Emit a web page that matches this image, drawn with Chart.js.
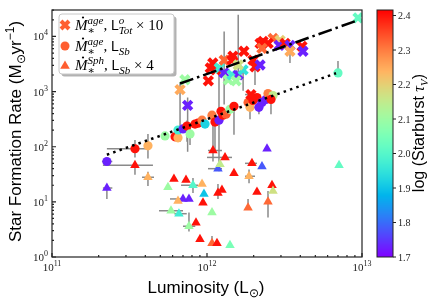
<!DOCTYPE html>
<html>
<head>
<meta charset="utf-8">
<script src="https://cdn.jsdelivr.net/npm/chart.js@4.4.1/dist/chart.umd.min.js"></script>
<style>html,body{margin:0;padding:0;background:#fff}</style>
</head>
<body>
<canvas id="c" width="436" height="303"></canvas>
<script>
// luminosities in units of 1e12 Lsun, SFR in Msun/yr, tau = log(starburst tau_V)
var crossL = [0.67, 0.72, 0.75, 1.02, 1.05, 1.09, 1.14, 1.2, 1.29, 1.29, 1.37, 1.47, 1.45, 1.73, 1.45, 1.59, 1.71, 1.59, 1.54, 1.98, 2.04, 2.2, 1.92, 2.2, 2.3, 2.67, 2.48, 2.96, 2.26, 2.92, 3.19, 3.43, 3.43, 4.1, 4.16, 9.42];
var crossSFR = [1085, 1640, 562, 1570, 2680, 3300, 2470, 2680, 3730, 2180, 1640, 4390, 3730, 5400, 2010, 2010, 2470, 3040, 1570, 3730, 2800, 3040, 884, 7500, 8140, 9200, 7500, 8480, 6100, 6900, 7500, 6900, 5400, 6630, 5400, 21800];
var crossTau = [2.25, 2.1, 1.73, 2.4, 2.4, 2.4, 2.4, 1.97, 2.32, 1.73, 2.1, 2.4, 2.4, 2.4, 1.97, 1.73, 1.95, 2.17, 2.1, 2.4, 2.4, 1.73, 2.4, 2.4, 2.4, 2.32, 2.4, 2.2, 2.32, 1.73, 2.4, 1.73, 2.25, 2.4, 1.73, 2.02];

var circL = [0.226, 0.343, 0.416, 0.536, 0.622, 0.65, 0.65, 0.70, 0.743, 0.777, 0.837, 0.875, 0.929, 0.971, 1.077, 1.126, 1.195, 1.231, 1.268, 1.327, 1.407, 1.493, 1.84, 1.894, 1.98, 2.10, 2.163, 2.263, 2.403, 2.475, 2.665, 2.587, 7.0];
var circSFR = [54, 92, 104, 157, 151, 145, 201, 210, 237, 171, 258, 268, 303, 258, 373, 280, 303, 439, 373, 388, 477, 540, 636, 518, 691, 781, 518, 636, 720, 921, 849, 720, 2180];
var circTau = [1.73, 2.4, 2.24, 2.1, 2.4, 2.24, 1.97, 1.73, 2.4, 2.1, 2.4, 2.4, 2.3, 1.92, 2.3, 2.4, 1.73, 2.4, 2.4, 2.33, 2.1, 2.4, 2.33, 2.24, 2.4, 2.4, 1.73, 1.73, 1.73, 2.3, 2.15, 2.4, 2.02];

var triL = [0.226, 0.343, 0.416, 0.56, 0.612, 0.732, 0.812, 0.929, 0.956, 0.70, 0.765, 0.65, 0.942, 0.586, 0.659, 1.077, 0.849, 0.765, 0.901, 1.077, 1.16, 1.407, 1.177, 1.213, 1.493, 1.177, 1.249, 1.093, 1.307, 2.439, 1.95, 2.263, 1.867, 2.626, 2.665, 2.101, 2.475, 1.84, 7.11];
var triSFR = [17.8, 46, 28, 18.5, 26, 25, 20, 21, 13.9, 11.3, 11.3, 10.4, 9.6, 6.9, 6.1, 6.4, 4.2, 3.6, 2.1, 1.78, 1.78, 1.64, 40, 48, 33, 14.5, 16.4, 85, 64, 92, 50, 44, 29, 20, 15.7, 15.1, 10, 7.8, 46];
var triTau = [1.73, 2.4, 2.24, 2.1, 2.4, 2.4, 2.0, 2.24, 1.9, 1.73, 1.73, 2.24, 2.4, 2.1, 1.97, 2.1, 2.4, 2.1, 2.4, 2.32, 2.4, 2.05, 1.78, 2.15, 2.4, 2.4, 2.4, 2.4, 2.4, 1.73, 2.4, 1.78, 2.24, 2.4, 2.17, 2.4, 2.32, 2.32, 2.02];

// error bars: [index, L low, L high, SFR low, SFR high]
var crossErr = [[0, null, null, 123, 1450], [2, null, null, 81, 781], [9, null, null, 586, 12300], [16, null, null, 1040, null],
  [17, null, null, 1450, 24700], [20, null, null, 1320, null], [22, 1.76, 2.04, null, null], [32, null, null, 3300, null]];
var circErr = [[0, 0.21, 0.245, null, null], [1, 0.226, 0.41, 64, 133], [2, null, null, 61, 171], [8, null, null, 123, 300],
  [9, null, null, 108, 228], [15, null, null, 81, null], [16, null, null, 36, 2680], [21, null, null, 165, null],
  [23, null, null, 316, null], [26, null, null, 388, null], [31, null, null, 388, null], [32, null, null, null, 3580]];
var triErr = [[0, 0.213, 0.245, 11.3, null], [1, 0.213, 0.448, 31, null], [2, 0.381, 0.455, 19.3, 35], [6, 0.68, 0.875, 14.5, 27],
  [9, 0.577, null, null, null], [13, 0.49, 0.70, null, null], [14, 0.615, 0.74, null, null], [17, 0.70, 0.84, 2.9, 6.4],
  [19, null, null, null, 2.4], [22, 1.015, 1.25, null, null], [25, null, null, 11.3, 21], [27, 1.015, 1.249, 54, 343],
  [28, 1.0, 1.45, null, null], [30, 1.758, 2.10, null, null], [32, 1.76, 2.04, 21.8, 38.8], [36, null, null, 5.2, 15.7],
  [37, null, null, null, 11.3]];

// relations
var dashL = [0.67, 9.42];
var dashSFR = [1400, 19700];
var dotL = [0.226, 6.8];
var dotSFR = [71.5, 2150];

var xTicks = [1e11, 1e12, 1e13];
var yTicks = [1, 10, 100, 1000, 10000];
var tauMin = 1.7, tauMax = 2.416;
var cbTicks = [1.7, 1.8, 1.9, 2.0, 2.1, 2.2, 2.3, 2.4];

var SANS = '"Liberation Sans", Arial, sans-serif';
var SERIF = '"Liberation Serif", "DejaVu Serif", serif';

function rainbow(v){
  var t = (v - tauMin) / (tauMax - tauMin);
  t = Math.max(0, Math.min(1, t));
  var r = Math.min(1, Math.abs(2*t - 0.5)), g = Math.sin(Math.PI*t), b = Math.cos(Math.PI*t/2);
  return 'rgb(' + Math.round(r*255) + ',' + Math.round(g*255) + ',' + Math.round(b*255) + ')';
}

function pts(L, S){
  return L.map(function(l, i){ return {x: l*1e12, y: S[i]}; });
}

// text with sub/superscripts: parts = [text, font, dy, stackOnPrevious]
function rich(ctx, parts, x, y, align){
  var cx = 0, ls = 0, la = 0, pos = [];
  parts.forEach(function(p){
    ctx.font = p[1];
    var w = ctx.measureText(p[0]).width;
    if (p[3]) { pos.push(ls); var adv = Math.max(la, w); cx = ls + adv; la = adv; }
    else { pos.push(cx); ls = cx; la = w; cx += w; }
  });
  var x0 = align === 'center' ? x - cx/2 : (align === 'right' ? x - cx : x);
  parts.forEach(function(p, i){
    ctx.font = p[1];
    ctx.fillText(p[0], x0 + pos[i], y + (p[2] || 0));
  });
  return x0;
}

function drawErr(ctx, xs, ys, L, S, errs){
  errs.forEach(function(e){
    var i = e[0];
    var px = xs.getPixelForValue(L[i]*1e12), py = ys.getPixelForValue(S[i]);
    ctx.beginPath();
    if (e[1] != null || e[2] != null) {
      var a = e[1] != null ? e[1] : L[i], b = e[2] != null ? e[2] : L[i];
      ctx.moveTo(xs.getPixelForValue(a*1e12), py);
      ctx.lineTo(xs.getPixelForValue(b*1e12), py);
    }
    if (e[3] != null || e[4] != null) {
      var c = e[3] != null ? e[3] : S[i], d = e[4] != null ? e[4] : S[i];
      ctx.moveTo(px, ys.getPixelForValue(c));
      ctx.lineTo(px, ys.getPixelForValue(d));
    }
    ctx.stroke();
  });
}

function legendRow(ctx, x, y, sup, tail){
  var MI = 'italic 15px ' + SERIF, SC = 'italic 11px ' + SERIF;
  var parts = [['M', MI], [sup, SC, -6], ['\u2217', '11px ' + SERIF, 3.5, true], [', ', '15px ' + SERIF],
    ['L', '14px ' + SANS]].concat(tail);
  rich(ctx, parts, x, y, 'left');
  ctx.beginPath();
  ctx.arc(x + 8, y - 12.5, 1.1, 0, Math.PI*2);
  ctx.fill();
}

var decor = {
  id: 'decor',
  beforeDatasetsDraw: function(chart){
    var ctx = chart.ctx, xs = chart.scales.x, ys = chart.scales.y;
    ctx.save();
    ctx.strokeStyle = '#8a8a8a';
    ctx.lineWidth = 1.5;
    drawErr(ctx, xs, ys, crossL, crossSFR, crossErr);
    drawErr(ctx, xs, ys, circL, circSFR, circErr);
    drawErr(ctx, xs, ys, triL, triSFR, triErr);
    ctx.restore();
  },
  afterDraw: function(chart){
    var ctx = chart.ctx, ca = chart.chartArea, xs = chart.scales.x, ys = chart.scales.y;
    ctx.save();
    // frame
    ctx.strokeStyle = '#222';
    ctx.lineWidth = 1.2;
    ctx.strokeRect(ca.left, ca.top, ca.right - ca.left, ca.bottom - ca.top);
    // ticks, pointing inward
    ctx.beginPath();
    for (var d = 11; d <= 13; d++) {
      for (var k = 1; k <= 9; k++) {
        var v = k * Math.pow(10, d);
        if (v > 1e13) break;
        var px = xs.getPixelForValue(v), len = k === 1 ? 4 : 2;
        ctx.moveTo(px, ca.bottom); ctx.lineTo(px, ca.bottom - len);
      }
    }
    for (var e = 0; e <= 4; e++) {
      for (var k2 = 1; k2 <= 9; k2++) {
        var v2 = k2 * Math.pow(10, e);
        if (v2 > ys.max) break;
        var py = ys.getPixelForValue(v2), len2 = k2 === 1 ? 4 : 2;
        ctx.moveTo(ca.left, py); ctx.lineTo(ca.left + len2, py);
      }
    }
    ctx.stroke();

    // tick labels
    ctx.fillStyle = '#222';
    ctx.textBaseline = 'alphabetic';
    xTicks.forEach(function(v){
      rich(ctx, [['10', '11px ' + SERIF], [String(Math.round(Math.log10(v))), '8px ' + SERIF, -5]],
        xs.getPixelForValue(v), 271, 'center');
    });
    yTicks.forEach(function(v){
      rich(ctx, [['10', '11px ' + SERIF], [String(Math.round(Math.log10(v))), '8px ' + SERIF, -5]],
        48, ys.getPixelForValue(v) + 4, 'right');
    });

    // axis titles
    ctx.fillStyle = '#000';
    rich(ctx, [['Luminosity (L', '17px ' + SANS], ['\u2299', '12px ' + SANS, 4], [')', '17px ' + SANS]], 206, 293, 'center');
    ctx.save();
    ctx.translate(20.5, 131.5);
    ctx.rotate(-Math.PI/2);
    rich(ctx, [['Star Formation Rate (M', '17px ' + SANS], ['\u2299', '12px ' + SANS, 4], ['yr', '17px ' + SANS],
      ['\u22121', '12px ' + SANS, -7], [')', '17px ' + SANS]], 0, 0, 'center');
    ctx.restore();

    // colorbar
    var cx0 = ca.right + 15, cx1 = ca.right + 31, top = ca.top, bot = ca.bottom, h = bot - top;
    for (var y = top; y < bot; y++) {
      ctx.fillStyle = rainbow(tauMax - (y + 0.5 - top) / h * (tauMax - tauMin));
      ctx.fillRect(cx0, y, cx1 - cx0, 1);
    }
    ctx.strokeStyle = '#222';
    ctx.lineWidth = 1;
    ctx.strokeRect(cx0, top, cx1 - cx0, h);
    ctx.fillStyle = '#222';
    ctx.beginPath();
    cbTicks.forEach(function(t){
      var ty = bot - (t - tauMin) / (tauMax - tauMin) * h;
      ctx.moveTo(cx1, ty); ctx.lineTo(cx1 + 3, ty);
      ctx.font = '10px ' + SERIF;
      ctx.fillText(t.toFixed(1), cx1 + 5, ty + 3.5);
    });
    ctx.stroke();
    ctx.fillStyle = '#000';
    ctx.save();
    ctx.translate(424, 133);
    ctx.rotate(-Math.PI/2);
    rich(ctx, [['log (Starburst ', '16px ' + SANS], ['\u03c4', 'italic 16px ' + SERIF], ['V', 'italic 11px ' + SERIF, 4],
      [')', '16px ' + SANS]], 0, 0, 'center');
    ctx.restore();

    // legend
    var bx = 59, by = 14, bw = 115, bh = 60, r = 3;
    function box(x, y){
      ctx.beginPath();
      ctx.moveTo(x + r, y); ctx.lineTo(x + bw - r, y); ctx.quadraticCurveTo(x + bw, y, x + bw, y + r);
      ctx.lineTo(x + bw, y + bh - r); ctx.quadraticCurveTo(x + bw, y + bh, x + bw - r, y + bh);
      ctx.lineTo(x + r, y + bh); ctx.quadraticCurveTo(x, y + bh, x, y + bh - r);
      ctx.lineTo(x, y + r); ctx.quadraticCurveTo(x, y, x + r, y);
      ctx.closePath();
    }
    box(bx + 2.5, by + 2.5);
    ctx.fillStyle = 'rgba(0,0,0,0.3)';
    ctx.fill();
    box(bx, by);
    ctx.fillStyle = '#fff';
    ctx.fill();
    ctx.strokeStyle = '#c8c8c8';
    ctx.stroke();

    var legCol = rainbow(2.33);
    // markers
    ctx.strokeStyle = legCol; ctx.fillStyle = legCol;
    ctx.lineWidth = 4;
    ctx.beginPath();
    ctx.moveTo(61, 21); ctx.lineTo(69, 29); ctx.moveTo(69, 21); ctx.lineTo(61, 29);
    ctx.stroke();
    ctx.beginPath(); ctx.arc(65, 46, 4.5, 0, Math.PI*2); ctx.fill();
    ctx.beginPath(); ctx.moveTo(65, 60.5); ctx.lineTo(69.8, 68.7); ctx.lineTo(60.2, 68.7); ctx.closePath(); ctx.fill();

    ctx.fillStyle = '#000';
    var SC = 'italic 11px ' + SERIF;
    legendRow(ctx, 75, 30, 'age', [['o', SC, -6], ['Tot', SC, 3.5, true], [' \u00d7 10', '15px ' + SERIF]]);
    legendRow(ctx, 75, 51, 'age', [['Sb', SC, 3.5]]);
    legendRow(ctx, 75, 70, 'Sph', [['Sb', SC, 3.5], [' \u00d7 4', '15px ' + SERIF]]);
    ctx.restore();
  }
};

var chart = new Chart(document.getElementById('c'), {
  type: 'scatter',
  data: {
    datasets: [
      { data: pts(dashL, dashSFR), showLine: true, borderColor: '#000', borderWidth: 2.5,
        borderDash: [14, 4, 2.5, 4], pointRadius: 0, fill: false },
      { data: pts(dotL, dotSFR), showLine: true, borderColor: '#000', borderWidth: 2.5,
        borderDash: [2.5, 4.2], pointRadius: 0, fill: false },
      { data: pts(crossL, crossSFR), pointStyle: 'crossRot', pointRadius: 6, borderWidth: 4,
        borderColor: crossTau.map(rainbow), backgroundColor: crossTau.map(rainbow) },
      { data: pts(circL, circSFR), pointStyle: 'circle', pointRadius: 4.6, borderWidth: 0,
        backgroundColor: circTau.map(rainbow) },
      { data: pts(triL, triSFR), pointStyle: 'triangle', pointRadius: 5.5, borderWidth: 0,
        backgroundColor: triTau.map(rainbow) }
    ]
  },
  options: {
    responsive: false,
    devicePixelRatio: 1,
    animation: false,
    events: [],
    layout: { padding: { top: 6, right: 74, left: 0, bottom: 0 } },
    plugins: { legend: { display: false }, tooltip: { enabled: false } },
    scales: {
      x: {
        type: 'logarithmic', min: 1e11, max: 1e13,
        ticks: { display: false }, grid: { display: false }, border: { display: false },
        afterFit: function(s){ s.height = 46; }
      },
      y: {
        type: 'logarithmic', min: 1, max: Math.pow(10, 4.48),
        ticks: { display: false }, grid: { display: false }, border: { display: false },
        afterFit: function(s){ s.width = 52; }
      }
    }
  },
  plugins: [decor]
});
</script>
</body>
</html>
